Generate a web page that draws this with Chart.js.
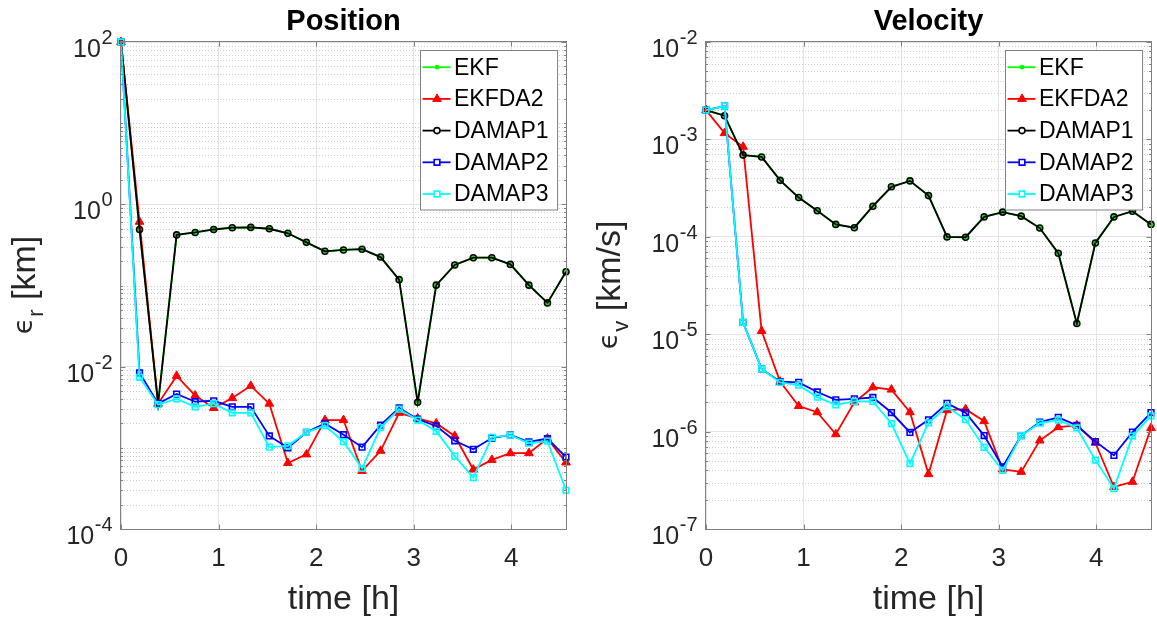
<!DOCTYPE html>
<html>
<head>
<meta charset="utf-8">
<script src="https://cdn.jsdelivr.net/npm/chart.js@4.4.1/dist/chart.umd.min.js"></script>
<style>
  html, body { margin: 0; padding: 0; background: #fff; }
  #wrap { position: relative; width: 1157px; height: 621px; overflow: hidden; }
  canvas { position: absolute; top: 0; }
</style>
</head>
<body>
<div id="wrap">
  <canvas id="pos" width="578" height="621" style="left:0"></canvas>
  <canvas id="vel" width="579" height="621" style="left:578px"></canvas>
</div>
<script>
// --- data ---
const timeH = [0, 0.19, 0.38, 0.57, 0.76, 0.95, 1.14, 1.33, 1.52, 1.71, 1.90, 2.09, 2.28,
               2.47, 2.66, 2.85, 3.04, 3.23, 3.42, 3.61, 3.80, 3.99, 4.18, 4.37, 4.56];
const xTicks = [0, 1, 2, 3, 4];

// position error [km]
const ekfPos    = [100, 0.49, 0.0035, 0.42, 0.45, 0.49, 0.515, 0.52, 0.50, 0.44, 0.34, 0.264, 0.274,
                   0.28, 0.224, 0.118, 0.00364, 0.101, 0.179, 0.22, 0.22, 0.182, 0.101, 0.061, 0.148];
const ekfda2Pos = [100, 0.61, 0.0035, 0.0077, 0.0044, 0.0031, 0.0041, 0.0058, 0.0035, 0.00065, 0.00083, 0.0022, 0.0022,
                   0.00052, 0.00092, 0.0027, 0.0023, 0.0020, 0.0014, 0.00054, 0.00071, 0.00086, 0.00086, 0.0013, 0.00066];
const damap1Pos = [100, 0.49, 0.0035, 0.42, 0.45, 0.49, 0.515, 0.52, 0.50, 0.44, 0.34, 0.264, 0.274,
                   0.28, 0.224, 0.118, 0.00364, 0.101, 0.179, 0.22, 0.22, 0.182, 0.101, 0.061, 0.148];
const damap2Pos = [100, 0.0084, 0.0035, 0.0046, 0.0037, 0.0038, 0.0032, 0.0032, 0.0014, 0.0010, 0.00155, 0.0020, 0.00145,
                   0.00102, 0.0019, 0.0031, 0.00225, 0.00186, 0.00122, 0.00096, 0.00132, 0.00144, 0.00118, 0.0013, 0.00077];
const damap3Pos = [100, 0.0074, 0.0034, 0.0040, 0.0032, 0.0035, 0.0027, 0.0027, 0.00102, 0.00106, 0.00155, 0.00188, 0.00119,
                   0.00056, 0.00178, 0.0030, 0.0022, 0.0016, 0.00079, 0.00043, 0.00135, 0.00143, 0.00114, 0.00121, 0.0003];

// velocity error [km/s]
const ekfVel    = [0.002, 0.00175, 0.00069, 0.00066, 0.00038, 0.000253, 0.000185, 0.000134, 0.000124, 0.000206, 0.000326, 0.000375, 0.000265,
                   0.0000998, 0.000099, 0.00016, 0.000179, 0.000163, 0.000123, 0.0000678, 0.0000129, 0.0000865, 0.00016, 0.000183, 0.000134];
const ekfda2Vel = [0.002, 0.00116, 0.00084, 1.08e-5, 3.25e-6, 1.83e-6, 1.58e-6, 9.4e-7, 2.0e-6, 2.85e-6, 2.7e-6, 1.58e-6, 3.66e-7,
                   1.66e-6, 1.7e-6, 1.28e-6, 4.1e-7, 3.86e-7, 8.1e-7, 1.11e-6, 1.16e-6, 7.7e-7, 2.7e-7, 3.05e-7, 1.09e-6];
const damap1Vel = [0.002, 0.00175, 0.00069, 0.00066, 0.00038, 0.000253, 0.000185, 0.000134, 0.000124, 0.000206, 0.000326, 0.000375, 0.000265,
                   0.0000998, 0.000099, 0.00016, 0.000179, 0.000163, 0.000123, 0.0000678, 0.0000129, 0.0000865, 0.00016, 0.000183, 0.000134];
const damap2Vel = [0.002, 0.0022, 1.32e-5, 4.4e-6, 3.25e-6, 3.2e-6, 2.55e-6, 2.12e-6, 2.17e-6, 2.24e-6, 1.57e-6, 9.8e-7, 1.32e-6,
                   1.95e-6, 1.56e-6, 9.1e-7, 4.35e-7, 9.1e-7, 1.25e-6, 1.4e-6, 1.16e-6, 7.9e-7, 5.7e-7, 9.9e-7, 1.57e-6];
const damap3Vel = [0.002, 0.0022, 1.32e-5, 4.4e-6, 3.2e-6, 3.0e-6, 2.26e-6, 1.88e-6, 2.04e-6, 2.04e-6, 1.21e-6, 4.7e-7, 1.23e-6,
                   1.8e-6, 1.33e-6, 6.9e-7, 4.0e-7, 9.1e-7, 1.22e-6, 1.31e-6, 1.09e-6, 5.1e-7, 2.6e-7, 9.0e-7, 1.45e-6];

// y decades (axis range) and the decades that get a label
const posRange = [-4, 2];
const posTickExp = [-4, -2, 0, 2];
const velRange = [-7, -2];
const velTickExp = [-7, -6, -5, -4, -3, -2];

// --- styles ---
const FONT = '"Liberation Sans", Arial, Helvetica, sans-serif';
const SYM = '"DejaVu Sans", "Liberation Sans", sans-serif';
const TXT = '#262626';
const AXC = '#808080';
const GRID = '#e4e4e4';
const MINOR = '#cdcdcd';

const SERIES = [
  { label: 'EKF',    color: '#00ff00', shape: 'circle',   r: 2.4, fill: '#00ff00', bw: 0 },
  { label: 'EKFDA2', color: '#ff0000', shape: 'triangle', r: 5.0, fill: '#ff0000', bw: 1 },
  { label: 'DAMAP1', color: '#000000', shape: 'circle',   r: 3.0, fill: 'rgba(0,0,0,0)', bw: 1.6 },
  { label: 'DAMAP2', color: '#0000ff', shape: 'rect',     r: 4.0, fill: 'rgba(0,0,0,0)', bw: 1.6 },
  { label: 'DAMAP3', color: '#00ffff', shape: 'rect',     r: 4.0, fill: 'rgba(0,0,0,0)', bw: 1.6 }
];

function buildSets(lists) {
  return SERIES.map((s, i) => ({
    label: s.label,
    data: timeH.map((t, j) => ({ x: t, y: lists[i][j] })),
    borderColor: s.color,
    borderWidth: 1.8,
    pointStyle: s.shape,
    pointRadius: s.r,
    pointHoverRadius: s.r,
    pointBackgroundColor: s.fill,
    pointBorderColor: s.color,
    pointBorderWidth: s.bw,
    order: SERIES.length - i,   // later series drawn on top
    tension: 0,
    fill: false,
    clip: false
  }));
}

function drawMarker(ctx, s, x, y) {
  ctx.beginPath();
  if (s.shape === 'triangle') {
    for (let k = 0; k < 3; k++) {
      const a = k * 2 * Math.PI / 3;
      const px = x + Math.sin(a) * s.r, py = y - Math.cos(a) * s.r;
      if (k) ctx.lineTo(px, py); else ctx.moveTo(px, py);
    }
    ctx.closePath();
  } else if (s.shape === 'rect') {
    const h = s.r * Math.SQRT1_2;
    ctx.rect(x - h, y - h, 2 * h, 2 * h);
  } else {
    ctx.arc(x, y, s.r, 0, 2 * Math.PI);
  }
  ctx.fillStyle = s.fill === 'rgba(0,0,0,0)' ? '#fff' : s.fill;
  ctx.fill();
  if (s.bw > 0) { ctx.lineWidth = s.bw; ctx.strokeStyle = s.color; ctx.stroke(); }
}

function minorValues(range, major) {
  const out = [];
  for (let e = range[0]; e < range[1]; e++) {
    for (let k = 1; k <= 9; k++) {
      if (k === 1 && major.includes(e)) continue;
      out.push(k * Math.pow(10, e));
    }
  }
  return out;
}

// --- MATLAB-like axes decoration ---
function axesPlugin(cfg) {
  return {
    id: 'matlabAxes',
    beforeDraw(chart) {
      const ctx = chart.ctx;
      ctx.save();
      ctx.fillStyle = '#fff';
      ctx.fillRect(0, 0, chart.width, chart.height);
      ctx.restore();
    },
    beforeDatasetsDraw(chart) {
      const { ctx, chartArea: a } = chart;
      const ys = chart.scales.y;
      ctx.save();
      ctx.strokeStyle = MINOR;
      ctx.lineWidth = 1;
      ctx.setLineDash([1, 2]);
      minorValues(cfg.range, cfg.gridExp).forEach(v => {
        const y = Math.round(ys.getPixelForValue(v)) + 0.5;
        ctx.beginPath(); ctx.moveTo(a.left, y); ctx.lineTo(a.right, y); ctx.stroke();
      });
      ctx.restore();
    },
    afterDatasetsDraw(chart) {
      const { ctx, chartArea: a } = chart;
      const xs = chart.scales.x, ys = chart.scales.y;
      ctx.save();
      // box
      ctx.strokeStyle = AXC;
      ctx.lineWidth = 1;
      const L = Math.round(a.left) - 0.5, R = Math.round(a.right) + 0.5;
      const T = Math.round(a.top) - 0.5, B = Math.round(a.bottom) + 0.5;
      ctx.strokeRect(L, T, R - L, B - T);
      // inward ticks
      ctx.beginPath();
      xTicks.forEach(v => {
        const x = Math.round(xs.getPixelForValue(v)) + 0.5;
        ctx.moveTo(x, B); ctx.lineTo(x, B - 5);
        ctx.moveTo(x, T); ctx.lineTo(x, T + 5);
      });
      cfg.gridExp.forEach(e => {
        const y = Math.round(ys.getPixelForValue(Math.pow(10, e))) + 0.5;
        ctx.moveTo(L, y); ctx.lineTo(L + 5, y);
        ctx.moveTo(R, y); ctx.lineTo(R - 5, y);
      });
      minorValues(cfg.range, cfg.gridExp).forEach(v => {
        const y = Math.round(ys.getPixelForValue(v)) + 0.5;
        ctx.moveTo(L, y); ctx.lineTo(L + 2.5, y);
        ctx.moveTo(R, y); ctx.lineTo(R - 2.5, y);
      });
      ctx.stroke();

      // legend
      ctx.font = `23px ${FONT}`;
      const tw = Math.max(...SERIES.map(s => ctx.measureText(s.label).width));
      const bw = 33.5 + tw + 9, bh = 159.5;
      const bx = Math.round(a.right - 8.5 - bw) + 0.5, by = Math.round(a.top + 7.5) + 0.5;
      ctx.fillStyle = '#fff';
      ctx.fillRect(bx, by, bw, bh);
      ctx.strokeStyle = AXC;
      ctx.lineWidth = 1;
      ctx.strokeRect(bx, by, bw, bh);
      SERIES.forEach((s, i) => {
        const ry = by + 16.7 + 31.7 * i;
        ctx.strokeStyle = s.color;
        ctx.lineWidth = 1.8;
        ctx.beginPath(); ctx.moveTo(bx + 2, ry); ctx.lineTo(bx + 30, ry); ctx.stroke();
        drawMarker(ctx, s, bx + 16.5, ry);
        ctx.fillStyle = '#000';
        ctx.textAlign = 'left';
        ctx.textBaseline = 'middle';
        ctx.font = `23px ${FONT}`;
        ctx.fillText(s.label, bx + 33.5, ry + 1);
      });
      ctx.restore();
    },
    afterDraw(chart) {
      const { ctx, chartArea: a } = chart;
      const xs = chart.scales.x, ys = chart.scales.y;
      const cx = (a.left + a.right) / 2, cy = (a.top + a.bottom) / 2;
      ctx.save();
      ctx.fillStyle = TXT;
      ctx.textBaseline = 'alphabetic';
      // x tick labels
      ctx.font = `26px ${FONT}`;
      ctx.textAlign = 'center';
      xTicks.forEach(v => ctx.fillText(String(v), xs.getPixelForValue(v), a.bottom + 37));
      // y tick labels 10^e
      cfg.tickExp.forEach(e => {
        const y = ys.getPixelForValue(Math.pow(10, e));
        const xr = a.left - 8.5;
        ctx.font = `20px ${FONT}`;
        ctx.textAlign = 'right';
        const we = ctx.measureText(String(e)).width;
        ctx.fillText(String(e), xr, y + 2);
        ctx.font = `25px ${FONT}`;
        ctx.fillText('10', xr - we - 0.5, y + 15);
      });
      // x axis title
      ctx.font = `34px ${FONT}`;
      ctx.textAlign = 'center';
      ctx.fillText('time [h]', cx, 609);
      // y axis title: epsilon with subscript, then unit
      ctx.save();
      ctx.translate(a.left - 86, cy);
      ctx.rotate(-Math.PI / 2);
      ctx.textAlign = 'left';
      ctx.font = `27px ${SYM}`;
      const w1 = ctx.measureText('\u03f5').width;
      ctx.font = `34px ${FONT}`;
      const w3 = ctx.measureText(cfg.unit).width;
      ctx.font = `22px ${FONT}`;
      const w2 = ctx.measureText(cfg.sub).width;
      const x0 = -(w1 + w2 + w3) / 2;
      ctx.font = `27px ${SYM}`;
      ctx.fillText('\u03f5', x0, -3);
      ctx.font = `22px ${FONT}`;
      ctx.fillText(cfg.sub, x0 + w1 + 1, 8);
      ctx.font = `34px ${FONT}`;
      ctx.fillText(cfg.unit, x0 + w1 + w2 + 1, 0);
      ctx.restore();
      // title
      ctx.fillStyle = '#000';
      ctx.font = `bold 29px ${FONT}`;
      ctx.textAlign = 'center';
      ctx.fillText(cfg.title, cx, 30);
      ctx.restore();
    }
  };
}

function makeChart(id, lists, cfg) {
  return new Chart(document.getElementById(id), {
    type: 'line',
    data: { datasets: buildSets(lists) },
    options: {
      responsive: false,
      animation: false,
      devicePixelRatio: 1,
      layout: { padding: cfg.pad },
      plugins: { legend: { display: false }, tooltip: { enabled: false }, title: { display: false } },
      scales: {
        x: {
          type: 'linear',
          min: timeH[0],
          max: timeH[timeH.length - 1],
          afterBuildTicks: s => { s.ticks = xTicks.map(v => ({ value: v })); },
          ticks: { display: false },
          grid: { color: GRID, lineWidth: 1, drawTicks: false },
          border: { display: false }
        },
        y: {
          type: 'logarithmic',
          min: Math.pow(10, cfg.range[0]),
          max: Math.pow(10, cfg.range[1]),
          afterBuildTicks: s => { s.ticks = cfg.gridExp.map(e => ({ value: Math.pow(10, e), major: true })); },
          ticks: { display: false },
          grid: { color: GRID, lineWidth: 1, drawTicks: false },
          border: { display: false }
        }
      }
    },
    plugins: [axesPlugin(cfg)]
  });
}

makeChart('pos', [ekfPos, ekfda2Pos, damap1Pos, damap2Pos, damap3Pos], {
  title: 'Position', sub: 'r', unit: ' [km]',
  range: posRange, gridExp: posTickExp, tickExp: posTickExp,
  pad: { left: 121, top: 42, right: 12, bottom: 92 }
});

makeChart('vel', [ekfVel, ekfda2Vel, damap1Vel, damap2Vel, damap3Vel], {
  title: 'Velocity', sub: 'v', unit: ' [km/s]',
  range: velRange, gridExp: velTickExp, tickExp: velTickExp,
  pad: { left: 128, top: 42, right: 5, bottom: 92 }
});
</script>
</body>
</html>
